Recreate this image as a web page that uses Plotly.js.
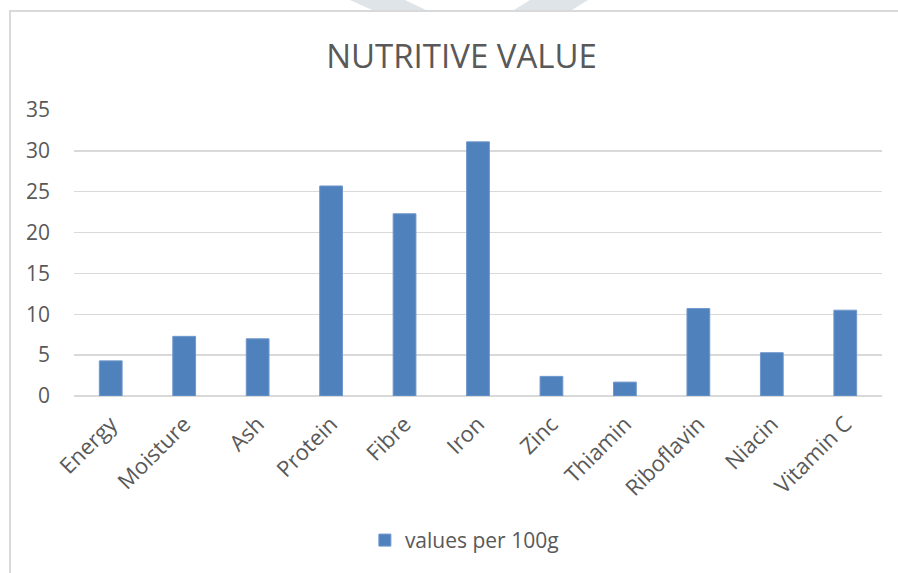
<!DOCTYPE html>
<html>
<head>
<meta charset="utf-8">
<script src="https://cdn.plot.ly/plotly-3.0.1.min.js"></script>
<style>
  html, body { margin: 0; padding: 0; width: 898px; height: 573px; overflow: hidden; background: #ffffff; }
  #wm { position: absolute; left: 0; top: 0; width: 898px; height: 12px; }
  #frame { position: absolute; left: 9px; top: 10px; width: 900px; height: 575px; border: 2px solid #d9d9d9; box-sizing: border-box; pointer-events: none; }
  #chart { position: absolute; left: 0; top: 0; width: 898px; height: 573px; }
</style>
</head>
<body>
<svg id="wm" width="898" height="12">
  <polygon points="350,0 405,0 426,10 372,10" fill="#dfe4e9"/>
  <polygon points="530,0 588,0 572,10 514,10" fill="#dfe4e9"/>
</svg>
<div id="chart"></div>
<div id="frame"></div>
<script>
const categories = ["Energy", "Moisture", "Ash", "Protein", "Fibre", "Iron", "Zinc", "Thiamin", "Riboflavin", "Niacin", "Vitamin C"];
const values = [4.3, 7.3, 7.0, 25.7, 22.3, 31.1, 2.4, 1.7, 10.7, 5.3, 10.5];
const seriesName = "values per 100g";
const chartTitle = "NUTRITIVE VALUE";
const yTicks = [0, 5, 10, 15, 20, 25, 30, 35];

const font = "'Open Sans', 'DejaVu Sans', sans-serif";
const textColor = "#595959";

const trace = {
  type: "bar",
  x: categories,
  y: values,
  name: seriesName,
  marker: { color: "#4f81bd", line: { color: "#6f97cc", width: 1 } },
  hoverinfo: "x+y",
  showlegend: true
};

const layout = {
  width: 898,
  height: 573,
  margin: { l: 74, r: 16, t: 110, b: 174 },
  paper_bgcolor: "rgba(0,0,0,0)",
  plot_bgcolor: "rgba(0,0,0,0)",
  font: { family: font, color: textColor, size: 21 },
  title: {
    text: chartTitle,
    font: { family: font, size: 33, color: textColor },
    x: 0.514, xanchor: "center",
    y: 0.902, yanchor: "middle"
  },
  bargap: 0.69,
  xaxis: {
    type: "category",
    tickangle: -45,
    showgrid: false,
    showline: false,
    zeroline: false,
    ticks: "",
    ticklabelstandoff: 10,
    tickfont: { family: font, size: 22, color: textColor },
    automargin: false
  },
  yaxis: {
    range: [0, 35],
    tickvals: yTicks,
    ticktext: yTicks.map(String),
    showgrid: true,
    gridcolor: "#d9d9d9",
    gridwidth: 1.5,
    zeroline: true,
    zerolinecolor: "#d9d9d9",
    zerolinewidth: 1.5,
    showline: false,
    ticks: "",
    ticklabelstandoff: 23,
    tickfont: { family: font, size: 21, color: textColor },
    automargin: false
  },
  showlegend: true,
  legend: {
    orientation: "h",
    x: 0.36, xanchor: "left",
    y: -0.505, yanchor: "middle",
    font: { family: font, size: 21, color: textColor },
    itemwidth: 30,
    bgcolor: "rgba(0,0,0,0)"
  }
};

Plotly.newPlot("chart", [trace], layout, { displayModeBar: false, staticPlot: true });
</script>
</body>
</html>
